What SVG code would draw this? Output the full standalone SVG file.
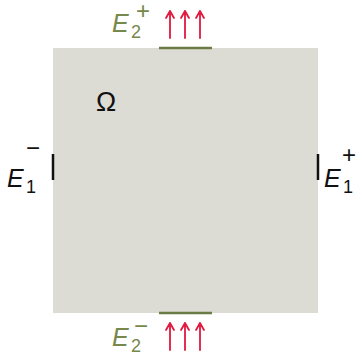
<svg xmlns="http://www.w3.org/2000/svg" width="362" height="355" viewBox="0 0 362 355">
<style>
.lab{font-family:"Liberation Sans",Arial,sans-serif;font-style:italic;font-size:25px}
.sub{font-family:"Liberation Sans",Arial,sans-serif;font-style:normal;font-size:18px}
.sup{font-family:"Liberation Sans",Arial,sans-serif;font-style:normal;font-size:24px}
.g{fill:#76884a}
.k{fill:#111}
.arr{stroke:#e0193f;stroke-width:1.8;fill:none;stroke-linecap:round;stroke-linejoin:round}
</style>
<defs>
<g id="arrows">
<path class="arr" d="M170,38V11M166,18L170,11L174,18"/>
<path class="arr" d="M185,38V11M181,18L185,11L189,18"/>
<path class="arr" d="M200,38V11M196,18L200,11L204,18"/>
</g>
</defs>
<rect width="362" height="355" fill="#fff"/>
<g id="domain">
<rect x="53" y="48" width="265" height="265" fill="#dcdcd4"/>
<text x="106" y="111" text-anchor="middle" font-family="Liberation Sans,sans-serif" font-size="27" fill="#111">Ω</text>
</g>
<g id="E2plus">
<line x1="159" y1="48" x2="212" y2="48" stroke="#6b7b45" stroke-width="2.5"/>
<text class="lab g" x="112" y="32">E</text>
<text class="sub g" x="131" y="38">2</text>
<text class="sup g" x="136" y="19">+</text>
<use href="#arrows"/>
</g>
<g id="E2minus">
<line x1="159" y1="313" x2="212" y2="313" stroke="#6b7b45" stroke-width="2.5"/>
<text class="lab g" x="112" y="346">E</text>
<text class="sub g" x="131" y="352">2</text>
<text class="sup g" x="134" y="334">−</text>
<use href="#arrows" transform="translate(0,312)"/>
</g>
<g id="E1minus">
<line x1="53" y1="154" x2="53" y2="180" stroke="#111" stroke-width="2.5"/>
<text class="lab k" x="7" y="187">E</text>
<text class="sub k" x="26" y="193">1</text>
<text class="sup k" x="26" y="156">−</text>
</g>
<g id="E1plus">
<line x1="318" y1="154" x2="318" y2="180" stroke="#111" stroke-width="2.5"/>
<text class="lab k" x="324" y="187">E</text>
<text class="sub k" x="343" y="193">1</text>
<text class="sup k" x="342" y="163">+</text>
</g>
</svg>
